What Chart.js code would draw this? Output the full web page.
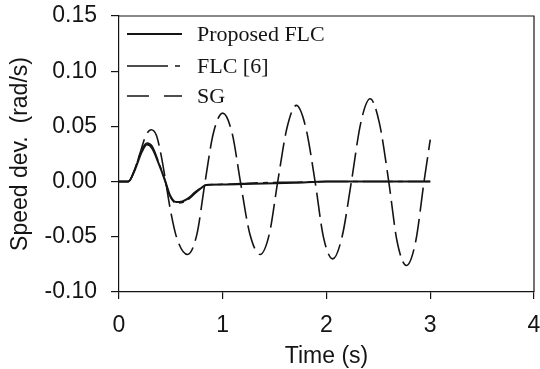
<!DOCTYPE html>
<html>
<head>
<meta charset="utf-8">
<script src="https://cdn.jsdelivr.net/npm/chart.js@4/dist/chart.umd.min.js"></script>
<style>
  html, body { margin: 0; padding: 0; background: #fff; }
  #wrap { width: 540px; height: 369px; position: relative; }
</style>
</head>
<body>
<div id="wrap"><canvas id="c" width="540" height="369"></canvas></div>
<script>
// ---- Data ----
const seriesLabels = ['Proposed FLC', 'FLC [6]', 'SG'];

const flcTime = [0, 0.09, 0.15, 0.22, 0.27, 0.32, 0.38, 0.44, 0.49, 0.55, 0.61, 0.67, 0.73, 0.79, 0.84, 1.0, 1.3, 1.7, 2.0, 3.0];
const proposedFLC = [0, 0, 0.010, 0.027, 0.0335, 0.030, 0.017, 0.002, -0.012, -0.0185, -0.018, -0.015, -0.010, -0.006, -0.003, -0.0027, -0.002, -0.001, 0, 0];
const flc6 = [0, 0, 0.011, 0.029, 0.035, 0.032, 0.018, 0.002, -0.013, -0.0195, -0.019, -0.016, -0.011, -0.006, -0.003, -0.0025, -0.0012, -0.0005, 0, 0];

const sgTime = [0, 0.09, 0.15, 0.21, 0.26, 0.31, 0.36, 0.41, 0.45, 0.50, 0.56, 0.66, 0.75, 0.83, 0.91, 1.00, 1.09, 1.17, 1.26, 1.36, 1.45, 1.53, 1.62, 1.71, 1.80, 1.89, 1.97, 2.06, 2.15, 2.24, 2.33, 2.42, 2.51, 2.60, 2.68, 2.77, 2.86, 2.94, 3.00];
const sg = [0, 0, 0.010, 0.028, 0.042, 0.047, 0.042, 0.022, 0.000, -0.028, -0.052, -0.066, -0.048, 0.000, 0.044, 0.062, 0.044, 0.000, -0.047, -0.066, -0.047, 0.000, 0.049, 0.069, 0.049, 0.000, -0.050, -0.070, -0.050, 0.000, 0.053, 0.075, 0.053, 0.000, -0.054, -0.076, -0.054, 0.000, 0.038];

const xTickValues = [0, 1, 2, 3, 4];
const yTickValues = [-0.10, -0.05, 0.00, 0.05, 0.10, 0.15];
const xTitle = 'Time (s)';
const yTitle = 'Speed dev.  (rad/s)';

// ---- Build chart ----
const toXY = (t, v) => t.map((x, i) => ({ x: x, y: v[i] }));
const ink = '#141414';
const legendDash = [[], [41, 7, 5, 7], [22, 15]];

const frameLegendPlugin = {
  id: 'frameLegend',
  afterDraw(chart) {
    const ctx = chart.ctx;
    const ca = chart.chartArea;
    ctx.save();
    ctx.strokeStyle = ink;
    ctx.lineWidth = 1.2;
    ctx.setLineDash([]);
    ctx.beginPath();
    ctx.moveTo(ca.left, ca.top);
    ctx.lineTo(ca.right, ca.top);
    ctx.lineTo(ca.right, ca.bottom);
    ctx.stroke();
    // legend
    const rows = [18, 50, 80];
    chart.data.datasets.forEach((ds, i) => {
      const y = ca.top + rows[i];
      ctx.beginPath();
      ctx.setLineDash(legendDash[i]);
      ctx.lineWidth = ds.borderWidth;
      ctx.strokeStyle = ink;
      ctx.moveTo(ca.left + 8, y);
      ctx.lineTo(ca.left + 63, y);
      ctx.stroke();
      ctx.setLineDash([]);
      ctx.fillStyle = ink;
      ctx.font = '22px "Liberation Serif", "Times New Roman", serif';
      ctx.textBaseline = 'middle';
      ctx.textAlign = 'left';
      ctx.fillText(ds.label, ca.left + 78, y + 1);
    });
    ctx.restore();
  }
};

const axisFont = { family: '"Liberation Sans", Arial, sans-serif', size: 23 };

new Chart(document.getElementById('c'), {
  type: 'line',
  data: {
    datasets: [
      { label: seriesLabels[0], data: toXY(flcTime, proposedFLC), borderColor: ink, borderWidth: 2, pointRadius: 0, cubicInterpolationMode: 'monotone', fill: false },
      { label: seriesLabels[1], data: toXY(flcTime, flc6), borderColor: ink, borderWidth: 1.5, borderDash: [30, 5, 5, 5], pointRadius: 0, cubicInterpolationMode: 'monotone', fill: false },
      { label: seriesLabels[2], data: toXY(sgTime, sg), borderColor: ink, borderWidth: 1.6, borderDash: [24, 7], pointRadius: 0, cubicInterpolationMode: 'monotone', fill: false }
    ]
  },
  options: {
    responsive: false,
    animation: false,
    events: [],
    layout: { padding: { left: 0, right: 6, top: 16, bottom: 0 } },
    plugins: { legend: { display: false }, tooltip: { enabled: false } },
    scales: {
      x: {
        type: 'linear', min: 0, max: 4,
        afterBuildTicks: (s) => { s.ticks = xTickValues.map(v => ({ value: v })); },
        afterFit: (s) => { s.height = 77; s.paddingLeft = 0; s.paddingRight = 0; },
        ticks: { color: ink, font: axisFont, padding: 13, maxRotation: 0, callback: (v) => String(v) },
        grid: { drawOnChartArea: false, drawTicks: true, tickLength: 7, color: ink, lineWidth: 1.2 },
        border: { display: true, color: ink, width: 1.2 },
        title: { display: true, text: xTitle, color: ink, font: axisFont, padding: { top: 0, bottom: -1 } }
      },
      y: {
        type: 'linear', min: -0.10, max: 0.15,
        afterBuildTicks: (s) => { s.ticks = yTickValues.map(v => ({ value: v })); },
        afterFit: (s) => { s.width = 119; s.paddingTop = 0; s.paddingBottom = 0; },
        ticks: { color: ink, font: axisFont, padding: 14, callback: (v) => Number(v).toFixed(2) },
        grid: { drawOnChartArea: false, drawTicks: true, tickLength: 8, color: ink, lineWidth: 1.2 },
        border: { display: true, color: ink, width: 1.2 },
        title: { display: true, text: yTitle, color: ink, font: axisFont, padding: { top: 7, bottom: 0 } }
      }
    }
  },
  plugins: [frameLegendPlugin]
});
</script>
</body>
</html>
